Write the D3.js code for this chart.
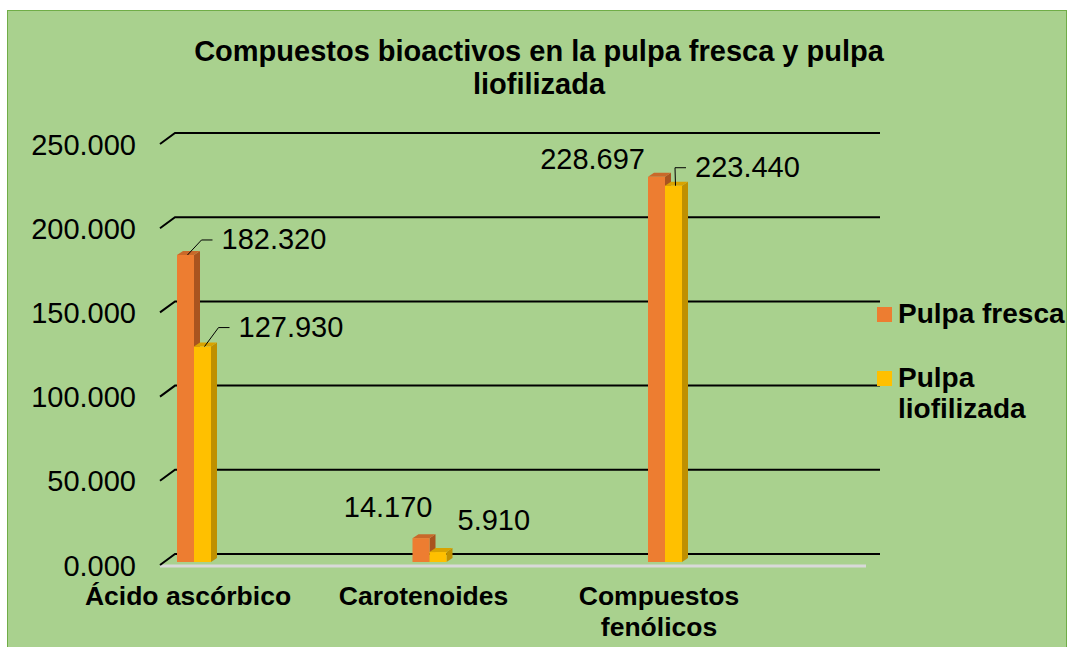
<!DOCTYPE html>
<meta charset="utf-8">
<script src="https://d3js.org/d3.v7.min.js"></script>
<style>
  body { margin: 0; background: #fff; }
  text { font-family: Arial, "Liberation Sans", sans-serif; }
</style>
<div id="my_dataviz"></div>
<script>
// data
var categories = ["Ácido ascórbico", "Carotenoides", "Compuestos fenólicos"];
var seriesNames = ["Pulpa fresca", "Pulpa liofilizada"];
var pulpaFresca = [182.320, 14.170, 228.697];
var pulpaLiofilizada = [127.930, 5.910, 223.440];
var yTicks = [0, 50, 100, 150, 200, 250];

var colors = ["#ED7D31", "#FFC000"];
var sideColors = ["#A9541F", "#BF9000"];
var topColors = ["#C9692A", "#D9A300"];

var W = 1069, H = 647;
var svg = d3.select("#my_dataviz")
  .append("svg")
    .attr("width", W)
    .attr("height", H);

// chart background
svg.append("rect")
  .attr("x", 7.5).attr("y", 10.5)
  .attr("width", 1059).attr("height", 640)
  .attr("fill", "#A9D18E")
  .attr("stroke", "#70AD47")
  .attr("stroke-width", 1);

// title
var title = svg.append("text")
  .attr("text-anchor", "middle")
  .attr("font-weight", "bold")
  .attr("font-size", "29px")
  .attr("fill", "#000");
title.append("tspan").attr("x", 539).attr("y", 61).text("Compuestos bioactivos en la pulpa fresca y pulpa");
title.append("tspan").attr("x", 539).attr("y", 94).text("liofilizada");

// scales (back wall)
var y = d3.scaleLinear().domain([0, 250]).range([554, 133]);
var x = d3.scalePoint().domain(categories).range([194, 665]);
var xs = d3.scaleBand().domain([0, 1]).range([-17, 17]).padding(0);

var depthX = 15, depthY = 11;     // perspective of the wall
var barDX = 6, barDY = 4;         // depth of the columns
var frontShift = 8;                // bars sit in front of the wall

// floor (front edge)
svg.append("line")
  .attr("x1", 160).attr("x2", 866)
  .attr("y1", y(0) + depthY + 1).attr("y2", y(0) + depthY + 1)
  .attr("stroke", "#D9D9D9").attr("stroke-width", 3);

// gridlines with slanted side wall part
var grid = svg.append("g");
yTicks.forEach(function(t) {
  var yb = y(t);
  grid.append("path")
    .attr("d", "M160," + (yb + depthY) + "L" + (160 + depthX) + "," + yb + "L880," + yb)
    .attr("fill", "none")
    .attr("stroke", "#000")
    .attr("stroke-width", 2);
});

// y axis labels
var yAxis = d3.axisLeft(y).tickValues(yTicks).tickFormat(d3.format(".3f")).tickSize(0);
var ax = svg.append("g")
  .attr("transform", "translate(139," + depthY + ")")
  .call(yAxis);
ax.select(".domain").remove();
ax.selectAll("text")
  .attr("font-size", "29px")
  .attr("font-family", "Arial, 'Liberation Sans', sans-serif")
  .attr("fill", "#000")
  .attr("dy", "0.35em");

// bars
var series = [pulpaFresca, pulpaLiofilizada];
var bars = [];
series.forEach(function(vals, s) {
  vals.forEach(function(v, i) {
    bars.push({ s: s, i: i, v: v });
  });
});

var barG = svg.append("g");
bars.forEach(function(d) {
  var x0 = x(categories[d.i]) + xs(d.s);
  var w = xs.bandwidth();
  var y0 = y(0) + frontShift;
  var y1 = y(d.v) + frontShift;
  // side
  barG.append("path")
    .attr("d", "M" + (x0 + w) + "," + y1 + "L" + (x0 + w + barDX) + "," + (y1 - barDY) +
               "L" + (x0 + w + barDX) + "," + (y0 - barDY) + "L" + (x0 + w) + "," + y0 + "Z")
    .attr("fill", sideColors[d.s]);
  // top
  barG.append("path")
    .attr("d", "M" + x0 + "," + y1 + "L" + (x0 + barDX) + "," + (y1 - barDY) +
               "L" + (x0 + w + barDX) + "," + (y1 - barDY) + "L" + (x0 + w) + "," + y1 + "Z")
    .attr("fill", topColors[d.s]);
  // front
  barG.append("rect")
    .attr("x", x0).attr("y", y1)
    .attr("width", w).attr("height", y0 - y1)
    .attr("fill", colors[d.s]);
});

// data labels: placement relative to bar top centre
var labelLayout = [
  [ {dx: 36, dy: -16, anchor: "start", leader: true},
    {dx: 11.5, dy: -31, anchor: "end", leader: false},
    {dx: -11.5, dy: -18, anchor: "end", leader: false} ],
  [ {dx: 36, dy: -20, anchor: "start", leader: true},
    {dx: 19.5, dy: -32, anchor: "start", leader: false},
    {dx: 21.5, dy: -19, anchor: "start", leader: true} ]
];
var lblG = svg.append("g");
bars.forEach(function(d) {
  var L = labelLayout[d.s][d.i];
  var cx = x(categories[d.i]) + xs(d.s) + xs.bandwidth() / 2;
  var ty = y(d.v) + frontShift;
  var tx = cx + L.dx, tyc = ty + L.dy;
  if (L.leader) {
    var sx = cx + 2, sy = ty;
    lblG.append("path")
      .attr("d", "M" + sx + "," + sy + "L" + (tx - 20) + "," + (tyc + 1) + "L" + (tx - 9) + "," + (tyc + 1))
      .attr("fill", "none").attr("stroke", "#000").attr("stroke-width", 1);
  }
  lblG.append("text")
    .attr("x", tx).attr("y", tyc)
    .attr("dy", "0.35em")
    .attr("text-anchor", L.anchor)
    .attr("font-size", "29px")
    .attr("fill", "#000")
    .text(d3.format(".3f")(d.v));
});

// category labels
var catG = svg.append("g");
categories.forEach(function(c, i) {
  var t = catG.append("text")
    .attr("text-anchor", "middle")
    .attr("font-weight", "bold")
    .attr("font-size", "26.5px")
    .attr("fill", "#000");
  var lines = (i === 2) ? ["Compuestos", "fenólicos"] : [c];
  lines.forEach(function(l, k) {
    t.append("tspan")
      .attr("x", x(c) - 6)
      .attr("y", 605 + k * 31)
      .text(l);
  });
});

// legend
var legend = svg.append("g");
var legendLines = [["Pulpa fresca"], ["Pulpa", "liofilizada"]];
seriesNames.forEach(function(n, s) {
  var ly = s === 0 ? 314 : 378;
  legend.append("rect")
    .attr("x", 877).attr("y", ly - 7)
    .attr("width", 15).attr("height", 15)
    .attr("fill", colors[s]);
  var t = legend.append("text")
    .attr("font-weight", "bold")
    .attr("font-size", "28px")
    .attr("fill", "#000");
  legendLines[s].forEach(function(l, k) {
    t.append("tspan").attr("x", 898).attr("y", ly + 9 + k * 31).text(l);
  });
});
</script>
